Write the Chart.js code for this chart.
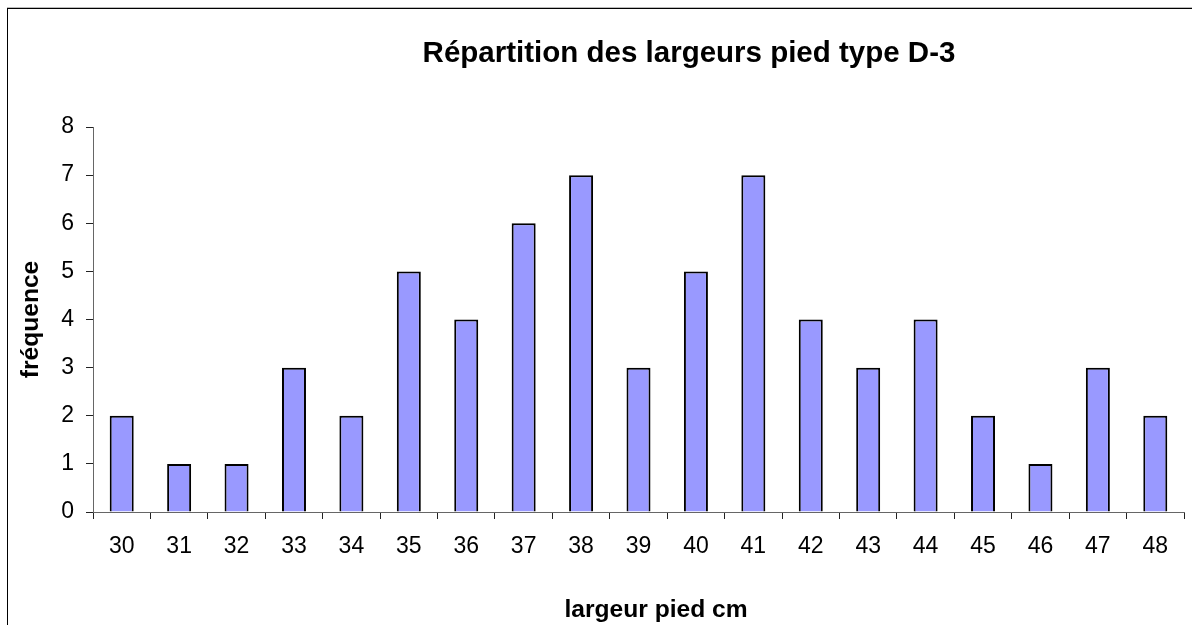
<!DOCTYPE html>
<html lang="fr">
<head>
<meta charset="utf-8">
<title>Répartition des largeurs pied type D-3</title>
<script src="https://cdn.jsdelivr.net/npm/chart.js@4.4.1/dist/chart.umd.min.js"></script>
<style>
  html, body { margin: 0; padding: 0; background: #fff; overflow: hidden; }
  #wrap { position: relative; width: 1192px; height: 625px; }
  #frame {
    position: absolute; left: 7px; top: 8px; width: 2000px; height: 2000px;
    border-left: 1.5px solid #000; border-top: 1.5px solid #000;
    box-shadow: 0 -1px 0 #bbb; pointer-events: none;
  }
  #chart { position: absolute; left: 0; top: 0; }
</style>
</head>
<body>
<div id="wrap">
  <div id="frame"></div>
  <canvas id="chart" width="1192" height="625"></canvas>
</div>
<script>
  "use strict";

  // données
  var largeurs = ['30', '31', '32', '33', '34', '35', '36', '37', '38', '39',
                  '40', '41', '42', '43', '44', '45', '46', '47', '48'];
  var frequences = [2, 1, 1, 3, 2, 5, 4, 6, 7, 3, 5, 7, 4, 3, 4, 2, 1, 3, 2];
  var titre = 'Répartition des largeurs pied type D-3';
  var titreX = 'largeur pied cm';
  var titreY = 'fréquence';

  var police = "'Liberation Sans', Arial, sans-serif";

  /** titre principal et titre de l'axe X (décalés comme dans Excel) */
  var titresPlugin = {
    id: 'titres',
    afterDraw: function(chart) {
      var ctx = chart.ctx;
      ctx.save();
      ctx.fillStyle = '#000';
      ctx.textAlign = 'center';
      ctx.textBaseline = 'alphabetic';
      ctx.font = 'bold 29.5px ' + police;
      ctx.fillText(titre, 689, 62);
      ctx.font = 'bold 24.6px ' + police;
      ctx.fillText(titreX, 656, 617);
      ctx.restore();
    }
  };

  new Chart(document.getElementById('chart'), {
    type: 'bar',
    data: {
      labels: largeurs,
      datasets: [{
        label: titreY,
        data: frequences,
        backgroundColor: '#9999ff',
        borderColor: '#000',
        borderWidth: 2,
        barPercentage: 0.418,
        categoryPercentage: 1
      }]
    },
    plugins: [titresPlugin],
    options: {
      responsive: false,
      animation: false,
      layout: { padding: { top: 127, right: 8, left: 0, bottom: 0 } },
      plugins: {
        legend: { display: false },
        title: { display: false },
        tooltip: { enabled: false }
      },
      scales: {
        x: {
          offset: true,
          afterFit: function(s) { s.height = 113; },
          grid: { display: true, offset: true, drawOnChartArea: false, drawTicks: true, tickLength: 7, tickColor: '#222' },
          border: { display: true, color: '#666', width: 1 },
          ticks: { color: '#000', padding: 14, maxRotation: 0, autoSkip: false, font: { family: police, size: 23 } }
        },
        y: {
          min: 0,
          max: 8,
          afterFit: function(s) { s.width = 93; },
          grid: { display: true, drawOnChartArea: false, drawTicks: true, tickLength: 7, tickColor: '#222' },
          border: { display: true, color: '#666', width: 1 },
          ticks: { stepSize: 1, color: '#000', padding: 12, font: { family: police, size: 23 } },
          title: {
            display: true, text: titreY, color: '#000',
            padding: { top: 16, bottom: 0 },
            font: { family: police, size: 24.6, weight: 'bold' }
          }
        }
      }
    }
  });
</script>
</body>
</html>
